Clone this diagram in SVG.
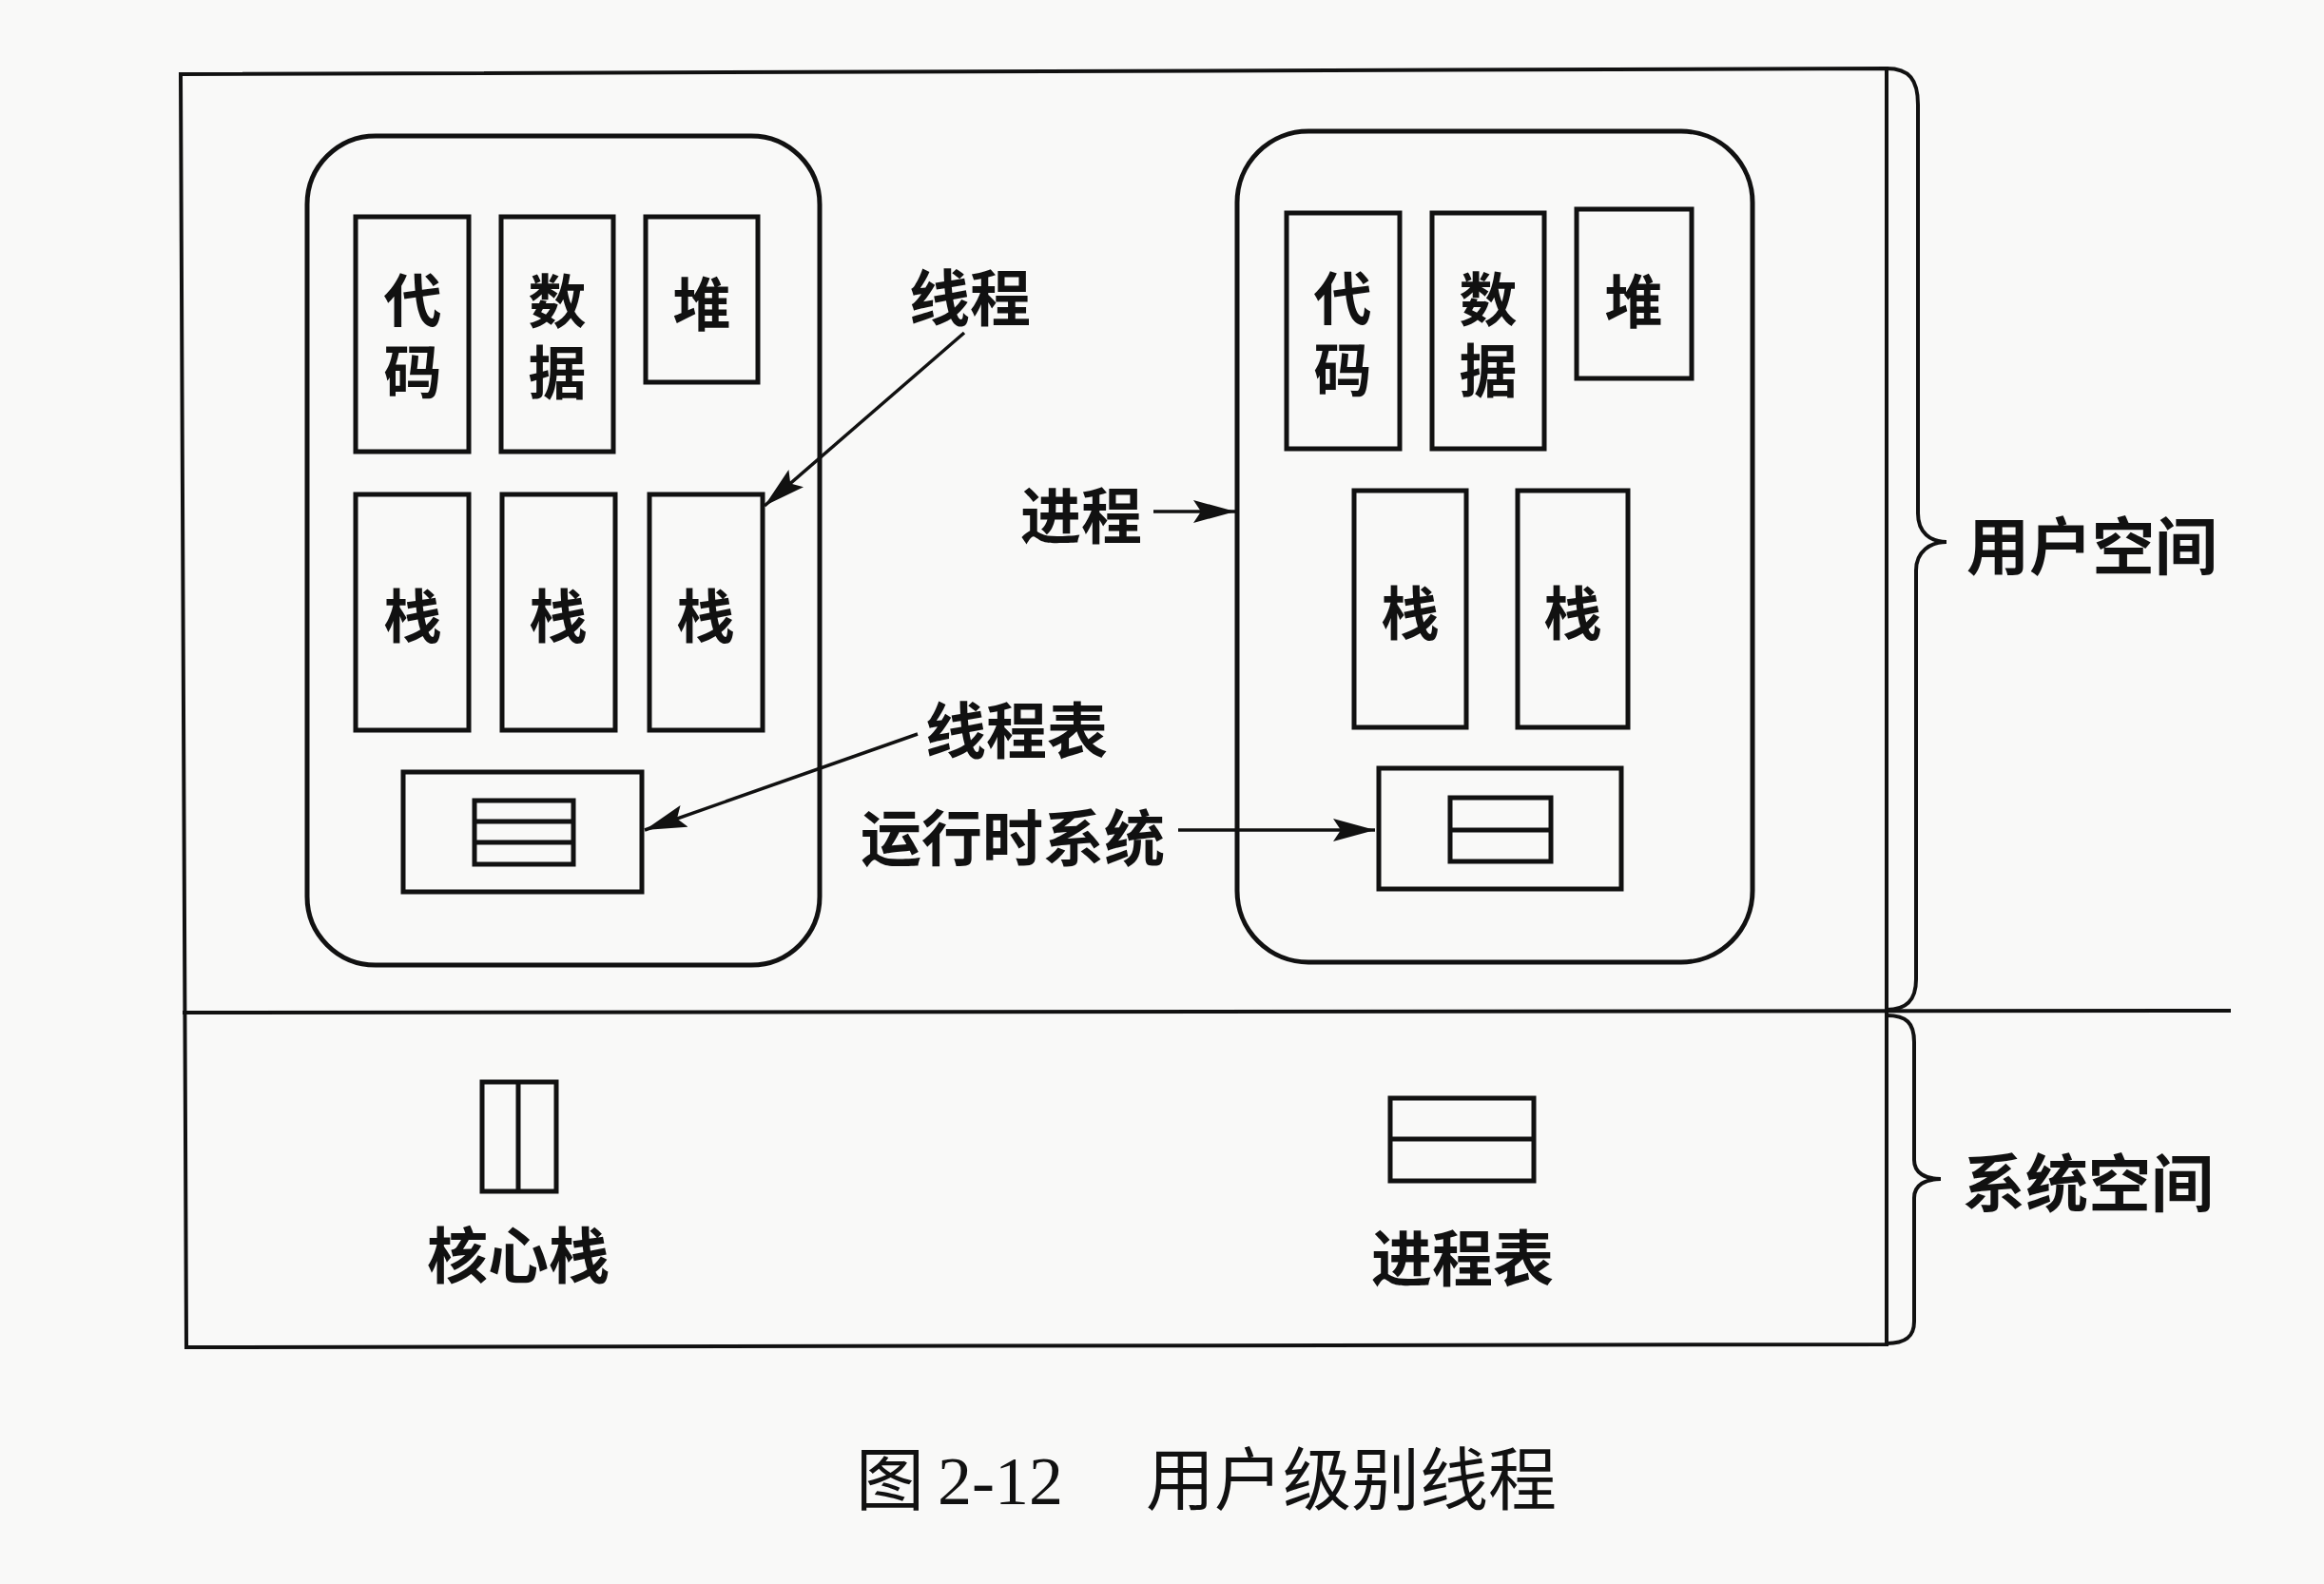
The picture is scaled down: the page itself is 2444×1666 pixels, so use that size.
<svg xmlns="http://www.w3.org/2000/svg" width="2444" height="1666" viewBox="0 0 2444 1666">
  <defs>
    <marker id="arr" markerUnits="userSpaceOnUse" markerWidth="44" markerHeight="24" viewBox="0 0 44 24" refX="44" refY="12" orient="auto">
      <path d="M0,0 L44,12 L0,24 L8,12 Z" fill="#111"/>
    </marker>
  </defs>
  <style>
    .frame { fill: none; stroke: #111; stroke-width: 4; }
    .proc { fill: none; stroke: #111; stroke-width: 5; }
    .box { fill: none; stroke: #111; stroke-width: 5; }
    .icon { fill: none; stroke: #111; stroke-width: 5; }
    .sep { stroke: #111; stroke-width: 4; }
    .conn { stroke: #111; stroke-width: 3.5; fill: none; marker-end: url(#arr); }
    .lbl { font-family: "Noto Sans CJK SC", sans-serif; font-weight: bold; font-size: 64px; fill: #111; text-anchor: middle; dominant-baseline: central; }
    .in { font-family: "Noto Sans CJK SC", sans-serif; font-weight: bold; font-size: 61px; fill: #111; text-anchor: middle; dominant-baseline: central; }
    .vin { font-family: "Noto Sans CJK SC", sans-serif; font-weight: bold; font-size: 61px; fill: #111; text-anchor: middle; writing-mode: vertical-rl; letter-spacing: 14px; }
    .side { font-family: "Noto Sans CJK SC", sans-serif; font-weight: bold; font-size: 66px; fill: #111; text-anchor: middle; dominant-baseline: central; }
    .cap { font-family: "Liberation Serif", "Noto Sans CJK SC", serif; font-size: 72px; fill: #111; }
  </style>
  <rect x="0" y="0" width="2444" height="1666" fill="#f9f9f8"/>

  <g id="frame">
    <path class="frame" d="M190,78 L1984,72 L1984,1414 L196,1417 Z"/>
    <line class="sep" x1="192" y1="1065" x2="2346" y2="1063"/>
    <path class="frame" d="M1984,72 C2008,72 2017,84 2017,110 L2017,540 C2017,560 2030,570 2047,570 C2030,570 2015,580 2015,600 L2015,1030 C2015,1052 2005,1062 1984,1062"/>
    <path class="frame" d="M1984,1068 C2005,1068 2013,1076 2013,1096 L2013,1220 C2013,1234 2025,1240 2041,1240 C2025,1240 2013,1246 2013,1260 L2013,1390 C2013,1405 2005,1413 1984,1413"/>
  </g>

  <g id="user-space-label"><text class="side" x="2200" y="570">用户空间</text></g>
  <g id="system-space-label"><text class="side" x="2196" y="1240">系统空间</text></g>

  <g id="process-left">
    <rect class="proc" x="323" y="143" width="539" height="872" rx="72" ry="72"/>
    <g id="left-code"><rect class="box" x="374" y="228" width="119" height="247"/><text class="vin" x="434" y="360">代码</text></g>
    <g id="left-data"><rect class="box" x="527" y="228" width="118" height="247"/><text class="vin" x="586" y="361">数据</text></g>
    <g id="left-heap"><rect class="box" x="679" y="228" width="118" height="174"/><text class="in" x="738" y="316">堆</text></g>
    <g id="left-stack1"><rect class="box" x="374" y="520" width="119" height="248"/><text class="in" x="434" y="644">栈</text></g>
    <g id="left-stack2"><rect class="box" x="528" y="520" width="119" height="248"/><text class="in" x="587" y="644">栈</text></g>
    <g id="left-stack3"><rect class="box" x="683" y="520" width="119" height="248"/><text class="in" x="742" y="644">栈</text></g>
    <g id="thread-table">
      <rect class="box" x="424" y="812" width="251" height="126"/>
      <rect class="icon" x="499" y="842" width="104" height="67"/>
      <line class="icon" x1="499" y1="864" x2="603" y2="864"/>
      <line class="icon" x1="499" y1="886" x2="603" y2="886"/>
    </g>
  </g>

  <g id="process-right">
    <rect class="proc" x="1301" y="138" width="542" height="874" rx="75" ry="75"/>
    <g id="right-code"><rect class="box" x="1353" y="224" width="119" height="248"/><text class="vin" x="1412" y="358">代码</text></g>
    <g id="right-data"><rect class="box" x="1506" y="224" width="118" height="248"/><text class="vin" x="1565" y="359">数据</text></g>
    <g id="right-heap"><rect class="box" x="1658" y="220" width="121" height="178"/><text class="in" x="1718" y="313">堆</text></g>
    <g id="right-stack1"><rect class="box" x="1424" y="516" width="118" height="249"/><text class="in" x="1483" y="641">栈</text></g>
    <g id="right-stack2"><rect class="box" x="1596" y="516" width="116" height="249"/><text class="in" x="1654" y="641">栈</text></g>
    <g id="runtime-system">
      <rect class="box" x="1450" y="808" width="255" height="127"/>
      <rect class="icon" x="1525" y="839" width="106" height="67"/>
      <line class="icon" x1="1525" y1="873" x2="1631" y2="873"/>
    </g>
  </g>

  <g id="kernel-stack">
    <rect class="icon" x="507" y="1138" width="78" height="115"/>
    <line class="icon" x1="545" y1="1138" x2="545" y2="1253"/>
    <text class="lbl" x="545" y="1316">核心栈</text>
  </g>

  <g id="process-table">
    <rect class="icon" x="1462" y="1155" width="151" height="87"/>
    <line class="icon" x1="1462" y1="1198" x2="1613" y2="1198"/>
    <text class="lbl" x="1538" y="1319">进程表</text>
  </g>

  <g id="label-thread"><text class="lbl" x="1020" y="309">线程</text></g>
  <g id="label-process"><text class="lbl" x="1137" y="538">进程</text></g>
  <g id="label-thread-table"><text class="lbl" x="1069" y="764">线程表</text></g>
  <g id="label-runtime"><text class="lbl" x="1065" y="877">运行时系统</text></g>

  <g id="connectors">
    <line class="conn" x1="1014" y1="350" x2="804" y2="532"/>
    <line class="conn" x1="965" y1="772" x2="678" y2="873"/>
    <line class="conn" x1="1213" y1="538" x2="1299" y2="538"/>
    <line class="conn" x1="1239" y1="873" x2="1446" y2="873"/>
  </g>

  <g id="caption">
    <text class="cap" x="900" y="1582">图</text>
    <text class="cap" x="986" y="1582">2-12</text>
    <text class="cap" x="1205" y="1582">用户级别线程</text>
  </g>
</svg>
